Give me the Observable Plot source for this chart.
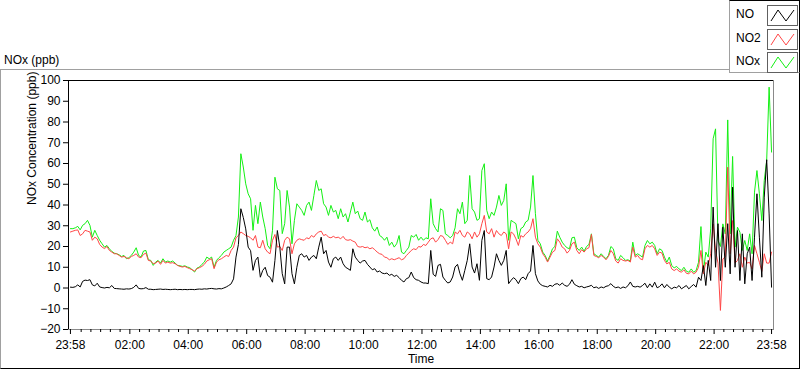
<!DOCTYPE html>
<html><head><meta charset="utf-8">
<script src="https://cdn.jsdelivr.net/npm/d3@7"></script>
<script src="https://cdn.jsdelivr.net/npm/@observablehq/plot@0.6"></script>
<style>
body{margin:0;background:#fff;font-family:"Liberation Sans",Arial,sans-serif;color:#000;}
#wrap{position:relative;width:800px;height:369px;overflow:hidden;}
#chart{position:absolute;left:0;top:0;}
#frame{position:absolute;left:0;top:69px;width:798px;height:298px;border-top:1px solid #a0a0a0;border-left:1px solid #a0a0a0;border-right:1px solid #000;border-bottom:1px solid #000;pointer-events:none;}
#title{position:absolute;left:4px;top:52px;font-size:12px;line-height:16px;}
#legend{position:absolute;left:729px;top:0;width:69px;height:71px;background:#fff;border:1px solid #a0a0a0;border-right-color:#000;border-top-color:#000;}
.item{position:absolute;left:6px;font-size:12px;line-height:16px;}
.sw{position:absolute;left:37px;width:29px;height:19px;border:1px solid #606060;background:#fff;}
.sw svg{display:block;}
</style></head>
<body><div id="wrap"></div>
<script>
// ---- data: 5-minute samples starting 23:58 ----
const seriesNames = ["NO", "NO2", "NOx"];
const seriesColors = ["#000000", "#ff4646", "#14f014"];
const startTime = [23, 58];
const stepMinutes = 5;
const majorHours = [2, 4, 6, 8, 10, 12, 14, 16, 18, 20, 22];
const yTicks = [-20, -10, 0, 10, 20, 30, 40, 50, 60, 70, 80, 90, 100];

const NO = [
0.4,0.3,0.6,1.5,0.5,3.2,3.8,3.6,4.0,1.5,
1.0,2.3,0.5,0.2,0.0,0.3,0.1,1.2,-0.2,-0.3,
-0.4,-0.5,-0.6,-0.4,-0.5,-0.3,0.3,1.5,-0.2,-0.4,
-0.3,0.2,-0.6,-0.6,-0.8,-0.7,-0.6,-0.5,-0.7,-0.6,
-0.7,-0.8,-0.7,-0.6,-0.8,-0.7,-0.8,-0.7,-0.8,-0.7,
-0.7,-0.8,-0.6,-0.5,-0.6,-0.4,-0.5,-0.3,-0.2,
-0.4,-0.5,-0.3,-0.4,0.0,0.5,1.2,2.0,4.4,14.9,
21,38.2,34,28.5,19.7,18,8.5,13.3,14.9,5.2,
8.5,10,6,5.2,2.8,13.3,27.7,19.7,6.9,2,
19.7,19.7,6.9,2,10,15.7,16.5,14.9,15.7,13.3,
14.9,15.7,14.1,19.7,24.5,16.5,18.1,12.5,10,14.1,
14.9,13.3,14.9,11.7,10,9.3,8.5,18.9,
14.9,13.3,12,13,13.3,11.4,10.1,8.8,9.3,7.7,
8.2,7.2,6.9,7.2,6.1,6.6,5.6,6.1,5,3.7,
2.9,4.5,5,7.7,5,4,3.7,2.9,2.4,2.4,
2.1,18.1,6.6,5.6,10.9,11.4,5.3,3.7,2.4,2.9,
5.3,10.1,11.4,6.9,3.7,8.5,13.3,21.3,10.1,7.2,
11.7,3.7,23,27.7,4.5,4,5.3,10.1,
16.5,13.3,10.9,13.3,18.1,2.1,3.7,5,4,2.1,
4.5,5.3,4,6.9,8.2,20.5,6.9,3.4,1.8,1.1,
0.8,0.5,1.3,0.8,1.8,2.1,1.3,2.4,1.3,0.8,
1.8,4,1.8,1.1,0.5,0.8,0.1,0.5,0.8,1.3,
0.1,0.5,-0.2,0.5,0.1,0.8,1.1,2.1,0.8,0.1,
0.5,-0.2,0.5,0.1,1.1,2.9,0.8,0.5,0.8,
0.4,1.2,2.3,0.1,2,0.4,2.8,0.1,0.7,2,
0.1,1.7,0.4,-0.4,0.4,0.1,1.2,-0.4,0.4,1.2,
-0.4,0.7,1.7,0.4,5.2,3.6,10.8,1.2,13.3,3.6,
39,10,31,3.6,29.3,10,31,6.8,48.6,10,
27.7,3.6,26.1,2,16.5,19.7,3.6,24.5,45.4,24.5,
5.2,43.8,61.8,35.7,0.4
];

const NO2 = [
27,27.4,27.8,28,25.3,26.1,27.8,27.4,27,23,
24.5,23.7,21,19.7,19,20,18.1,17.3,16.5,16.5,
15.7,14.9,15.2,14.6,14.1,15.2,15.7,16.5,14.9,14.6,
16.2,16.8,13.3,13,11.7,12,13,11.4,13.3,12,
12.5,12,12.2,11.7,10.9,10.4,10.1,10.4,9.8,9.3,
8.8,8.2,9.3,9.8,10.4,11.4,13,13.6,14.1,
9.3,12.5,13.6,14.1,14.9,15.7,15.2,18.1,19.7,24.2,
25.3,27,26.2,25.3,24.9,24.2,23,25.3,19.7,19.4,
23,18.9,17.3,16.5,23,25.8,19.7,20,18.1,23,
24.5,23.7,16.5,21.3,23,23.7,23.3,23,24.2,23.7,
25.3,24.5,26.1,27,27.4,25.3,25.8,24.5,24.2,24.9,
24.2,24.5,23.7,24.9,23.3,23,23.3,22.6,
22.1,20,19.7,20,19.4,19.7,18.9,19.4,18.5,17.3,
16.5,16.2,14.9,14.6,13.6,14.1,13.6,14.1,14.6,13.6,
14.1,15.7,16.8,18.1,18.9,18.5,20,19.7,21,20.5,
22.1,23.7,24.2,22.1,23.3,25.3,24.9,23,21,22.1,
21.3,27,26.1,27.8,25.3,24.5,27,26.1,23.7,27,
24.5,26.1,31,35,27,26.1,28.6,24.5,
27.7,26.1,25.3,27,26.1,18.9,27,26.1,23.7,20.5,
25.3,24.5,26.1,27,28.6,33.4,24.5,21.3,19.7,16.5,
14.9,12.5,14.9,17.3,18.1,23.7,22.1,19.7,18.9,16.8,
18.1,21.3,22.1,18.1,16.5,18.5,17.3,18.9,19.4,25.8,
15.7,15.2,14.6,15.7,14.9,13.6,15.2,18.1,16.5,13,
12,14.1,13.3,13,13.3,12.5,19.7,14.9,15.7,
14.1,13.6,18.9,20.5,19.7,20.5,18.9,15.7,17.3,16.8,
13.3,11.6,12.4,9.2,8.4,9.2,8.1,7.6,8.8,7.1,
6.8,8.1,6.8,7.6,10,18.1,6.8,12.4,10.8,16.5,
30.9,18,12,-10.8,14,15,58.2,16.5,32.5,12,
13.3,16.5,10,14.9,12,12.4,9.2,20.5,16.5,12.4,
8,16.5,12,12,17.3
];

const NOx = [
28.6,28.6,29,29.7,28,30.2,31,32.6,30.2,24.5,
27.8,25.3,23,21.3,19.7,20.5,18.9,17.6,16.8,16.5,
16,15.2,15.7,14.1,14.6,15.7,17.3,19.4,15.7,14.9,
17.8,18.1,13.6,13.3,10.9,12.5,13.3,12,14.1,12.5,
13,12.5,13,12,10.9,10.7,10.4,10.7,10.1,9.8,
8.8,7.7,9.6,10.1,11.4,12.5,14.9,14.1,14.9,
10,13.3,14.6,15.7,17.3,18.1,18.9,19.7,23,25.3,
34.2,64.7,58.3,50.2,45.4,43,27.8,39.8,31,41.4,
34.2,28.6,20.5,18.9,27.8,53.4,47.8,47,26.2,31,
47,39,21.3,32.6,40.6,39,37.4,35,39.8,41.4,
37.4,44.6,51.8,47,47.8,40.6,39,35,39.8,36.6,
37.4,33.4,38.2,34.2,35.8,31.8,36.6,41.4,
35.8,37.1,33.4,32.6,36.6,31.8,32.9,29,27.4,29.4,
25.3,24.5,23,24.5,20.5,22.1,19.7,21.3,25.3,17.3,
16.5,18.1,19.7,25.3,24.5,25.8,23,24.5,23,24.2,
23.7,43,31,28.6,27,38.2,37.4,26.1,25.3,24.2,
25.3,29,38.2,35.8,41.4,31,32.6,54.2,38.2,36.6,
32.6,33.4,56.6,59.9,37.4,33.4,36.6,35,
39,44.6,39.8,42.2,50.2,23,32.6,31.8,31,23.7,
28.6,29.4,31.8,32.6,39,54.2,35.8,23,21.3,17.3,
15.7,13,15.7,18.9,20,27.4,24.5,22.1,20.5,19.4,
18.9,24.2,24.5,19.4,18.1,19.7,17.8,20,21,26.1,
16.5,15.7,14.9,16.5,15.2,14.1,15.7,20,18.9,14.1,
13.3,15.7,14.6,13.3,13.6,13,22.1,15.7,16.5,
15.7,14.9,20.5,22.9,21.3,22.1,20.5,16.5,18.9,18.1,
14.9,12.4,14.9,10.8,9.7,10.4,9.2,8.4,10,8.1,
7.6,9.2,7.6,8.4,12.4,29.6,7.6,17.3,14.9,28.5,
71.9,76.7,22.9,20,30.9,26,81,26.1,63.4,19.7,
29.3,26.9,18.1,22.9,18.1,26.1,16.5,46.2,56.6,45.4,
32.5,51.8,61.4,96.8,65.5
];

if (NO.length !== 289 || NO2.length !== 289 || NOx.length !== 289) {
  throw new Error("lengths " + NO.length + " " + NO2.length + " " + NOx.length);
}

// ---- build table ----
const start = new Date(2021, 0, 1, startTime[0], startTime[1]);
const minute = 60000;
const end = new Date(+start + 24 * 60 * minute);
const valuesByName = {NO, NO2, NOx};
const drawOrder = ["NOx", "NO2", "NO"];
const rows = drawOrder.flatMap(name => valuesByName[name].map((v, i) => ({
  t: new Date(+start + i * stepMinutes * minute), v, key: name
})));

const majors = [start, ...majorHours.map(h => new Date(2021, 0, 2, h, 0)), end];
const minors = d3.timeMinute.every(20).range(new Date(+start + 5 * minute), new Date(+end - 1 * minute))
  .filter(d => !(d.getMinutes() === 0 && d.getHours() % 2 === 0));
const fmt = d3.timeFormat("%H:%M");
const pad = 4 * minute;

const chart = Plot.plot({
  width: 800, height: 369,
  marginTop: 80, marginBottom: 40, marginLeft: 68, marginRight: 27,
  style: {background: "transparent", fontFamily: "'Liberation Sans', Arial, sans-serif", fontSize: "12px", color: "#000", overflow: "visible"},
  x: {type: "time", domain: [new Date(+start - pad), new Date(+end + pad)]},
  y: {domain: [-20, 100]},
  color: {domain: seriesNames, range: seriesColors},
  marks: [
    Plot.frame({stroke: "#8a8a8a"}),
    Plot.ruleY([100], {stroke: "#000"}),
    Plot.ruleX([new Date(+start - pad)], {stroke: "#000"}),
    Plot.line(rows, {x: "t", y: "v", z: "key", stroke: "key", strokeWidth: 1, curve: "linear"}),
    Plot.axisX({ticks: minors, tickSize: 3, tickFormat: () => "", label: null}),
    Plot.axisX({ticks: majors, tickSize: 5, tickPadding: 6, tickFormat: fmt, label: null}),
    Plot.axisY({ticks: yTicks, tickSize: 5, tickPadding: 3, label: null}),
    Plot.text(["NOx Concentration (ppb)"], {frameAnchor: "left", rotate: -90, dx: -36, fontSize: 12}),
    Plot.text(["Time"], {frameAnchor: "bottom", dy: 33, fontSize: 12})
  ]
});
chart.id = "chart";
const wrap = document.getElementById("wrap");
wrap.appendChild(chart);

const frame = document.createElement("div");
frame.id = "frame";
wrap.appendChild(frame);

const title = document.createElement("div");
title.id = "title";
title.textContent = "NOx (ppb)";
wrap.appendChild(title);

const legend = document.createElement("div");
legend.id = "legend";
seriesNames.forEach((name, k) => {
  const top = 4 + k * 23.5;
  const it = document.createElement("div");
  it.className = "item";
  it.style.top = (top + 1) + "px";
  it.textContent = name;
  legend.appendChild(it);
  const sw = document.createElement("div");
  sw.className = "sw";
  sw.style.top = top + "px";
  sw.innerHTML = `<svg width="29" height="19"><polyline points="3,15 10,4 18,15 26,4" fill="none" stroke="${seriesColors[k]}" stroke-width="1"/></svg>`;
  legend.appendChild(sw);
});
wrap.appendChild(legend);
</script>
</body></html>
